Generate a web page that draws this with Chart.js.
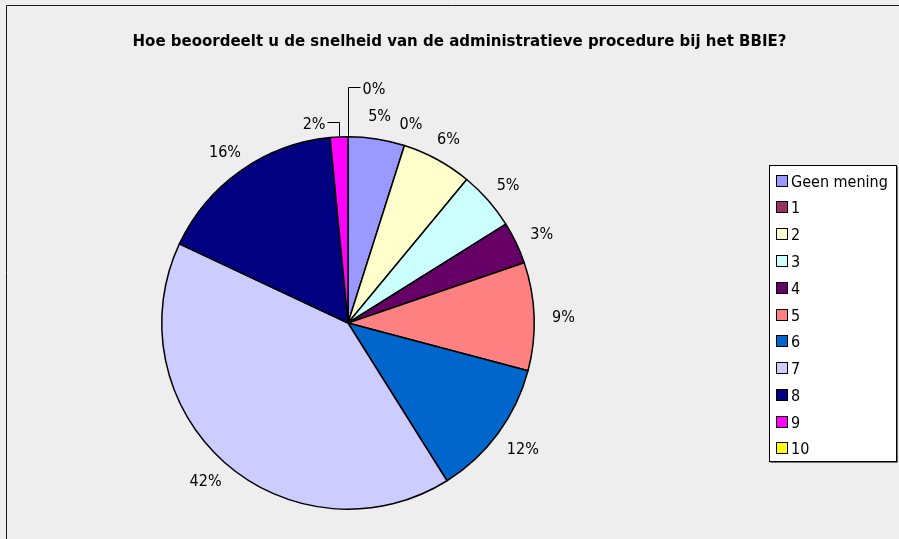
<!DOCTYPE html>
<html>
<head>
<meta charset="utf-8">
<script src="https://cdn.jsdelivr.net/npm/chart.js@4/dist/chart.umd.min.js"></script>
<style>
  html, body { margin: 0; padding: 0; background: #eeeeee; overflow: hidden; }
  canvas { display: block; }
</style>
</head>
<body>
<canvas id="pieChart" width="899" height="539" style="width:899px;height:539px"></canvas>
<script>
// -------------------------------------------------------------------------
// DATA
// -------------------------------------------------------------------------
const titleText = 'Hoe beoordeelt u de snelheid van de administratieve procedure bij het BBIE?';
const categories = ['Geen mening', '1', '2', '3', '4', '5', '6', '7', '8', '9', '10'];
const sliceShares = [4.9, 0, 6.1, 5.1, 3.65, 9.38, 11.95, 40.9, 16.49, 1.53, 0];
// percentages as printed next to the slices
const printedPercent = [5, 0, 6, 5, 3, 9, 12, 42, 16, 2, 0];
const sliceColors = ['#9999ff', '#993366', '#ffffcc', '#ccffff', '#660066', '#ff8080',
                     '#0066cc', '#ccccff', '#000080', '#ff00ff', '#ffff00'];

const FONT = '"DejaVu Sans Condensed", "DejaVu Sans", sans-serif';

// labels that Excel pulled away from the pie with a leader line
const leaderLines = { 9: { rise: 14, side: -1 }, 10: { rise: 49, side: 1 } };

// -------------------------------------------------------------------------
// PLUGINS: background frame, slice labels, title and legend
// -------------------------------------------------------------------------
const framePlugin = {
    id: 'frame',
    beforeDraw(chart) {
        const ctx = chart.ctx;
        ctx.save();
        ctx.fillStyle = '#eeeeee';
        ctx.fillRect(0, 0, chart.width, chart.height);
        ctx.strokeStyle = '#1a1a1a';
        ctx.lineWidth = 1;
        ctx.beginPath();
        ctx.moveTo(6.5, chart.height);
        ctx.lineTo(6.5, 5.5);
        ctx.lineTo(chart.width, 5.5);
        ctx.stroke();
        ctx.restore();
    }
};

const sliceLabelPlugin = {
    id: 'sliceLabels',
    afterDatasetsDraw(chart) {
        const ctx = chart.ctx;
        const meta = chart.getDatasetMeta(0);
        ctx.save();
        ctx.font = '16px ' + FONT;
        ctx.fillStyle = '#000000';
        ctx.strokeStyle = '#000000';
        ctx.lineWidth = 1;
        ctx.textBaseline = 'alphabetic';
        meta.data.forEach(function (arc, i) {
            const p = arc.getProps(['x', 'y', 'startAngle', 'endAngle', 'outerRadius'], true);
            const mid = (p.startAngle + p.endAngle) / 2;
            const text = printedPercent[i] + '%';
            const leader = leaderLines[i];
            if (leader) {
                const sx = Math.round(p.x + Math.cos(mid) * (p.outerRadius + 1)) + 0.5;
                const sy = p.y + Math.sin(mid) * (p.outerRadius + 1);
                const ty = Math.round(sy - leader.rise) + 0.5;
                const ex = sx + leader.side * 12;
                ctx.beginPath();
                ctx.moveTo(sx, sy);
                ctx.lineTo(sx, ty);
                ctx.lineTo(ex, ty);
                ctx.stroke();
                ctx.textAlign = leader.side > 0 ? 'left' : 'right';
                ctx.fillText(text, ex + leader.side * 2, ty + 6);
            } else {
                // anchor just outside the rim, text box pushed outwards from it
                const r = p.outerRadius + 18;
                const w = ctx.measureText(text).width;
                const cx = p.x + Math.cos(mid) * (r + w / 2 * Math.abs(Math.cos(mid)));
                const cy = p.y + Math.sin(mid) * r + Math.sin(mid) * 6;
                ctx.textAlign = 'center';
                ctx.fillText(text, cx, cy + 6);
            }
        });
        ctx.restore();
    }
};

const titleLegendPlugin = {
    id: 'titleLegend',
    afterDraw(chart) {
        const ctx = chart.ctx;
        const ds = chart.data.datasets[0];
        ctx.save();

        // title
        ctx.font = 'bold 15px "DejaVu Sans", sans-serif';
        ctx.fillStyle = '#000000';
        ctx.textAlign = 'center';
        ctx.textBaseline = 'alphabetic';
        ctx.fillText(titleText, 459.5, 46);

        // legend box
        const boxX = 769.5, boxY = 165.5, boxW = 127, boxH = 296;
        ctx.fillStyle = '#ffffff';
        ctx.fillRect(boxX, boxY, boxW, boxH);
        ctx.strokeStyle = '#000000';
        ctx.lineWidth = 1;
        ctx.strokeRect(boxX, boxY, boxW, boxH);
        ctx.strokeStyle = '#777777';
        ctx.beginPath();
        ctx.moveTo(boxX + 1, boxY + boxH + 1);
        ctx.lineTo(boxX + boxW + 1, boxY + boxH + 1);
        ctx.lineTo(boxX + boxW + 1, boxY + 1);
        ctx.stroke();

        ctx.font = '16px ' + FONT;
        ctx.textAlign = 'left';
        chart.data.labels.forEach(function (label, i) {
            const cy = 180.7 + i * 26.76;
            const sy = Math.round(cy - 6) + 0.5;
            ctx.fillStyle = ds.backgroundColor[i];
            ctx.fillRect(776.5, sy, 11, 11);
            ctx.strokeStyle = '#000000';
            ctx.strokeRect(776.5, sy, 11, 11);
            ctx.fillStyle = '#000000';
            ctx.fillText(label, 791, cy + 6);
        });
        ctx.restore();
    }
};

// -------------------------------------------------------------------------
// CHART
// -------------------------------------------------------------------------
const ctx = document.getElementById('pieChart').getContext('2d');
new Chart(ctx, {
    type: 'pie',
    data: {
        labels: categories,
        datasets: [{
            data: sliceShares,
            backgroundColor: sliceColors,
            borderColor: '#000000',
            borderWidth: 1.5
        }]
    },
    options: {
        responsive: false,
        devicePixelRatio: 1,
        animation: false,
        layout: { padding: { left: 161, right: 364, top: 136, bottom: 29 } },
        plugins: {
            legend: { display: false },
            title: { display: false },
            tooltip: { enabled: false }
        }
    },
    plugins: [framePlugin, sliceLabelPlugin, titleLegendPlugin]
});
</script>
</body>
</html>
